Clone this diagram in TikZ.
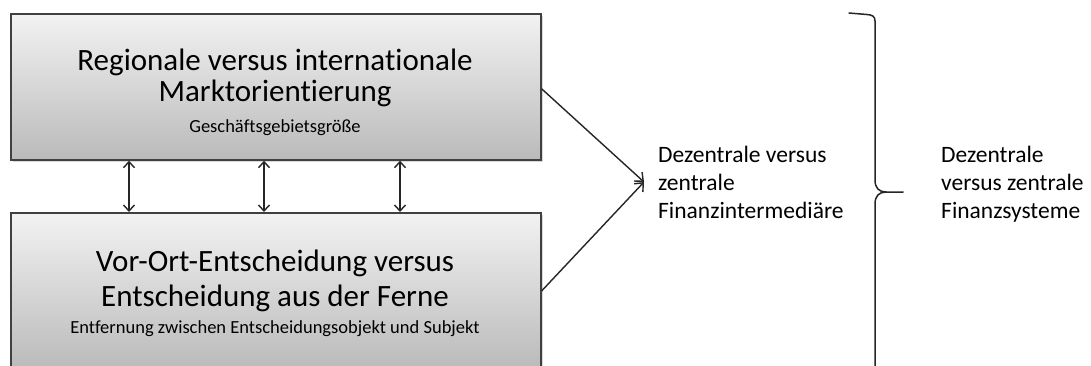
\documentclass[tikz,border=0pt]{standalone}
\usepackage{fontspec}
\setmainfont{Carlito}[Ligatures={NoCommon}]
\usetikzlibrary{arrows.meta,shadows}
\tikzset{
  box/.style={draw=black!75, line width=1.7pt, top color=black!5, bottom color=black!27,
    drop shadow={shadow xshift=2pt,shadow yshift=-2pt,opacity=0.3},
    anchor=north west, inner sep=0pt, minimum width=530pt},
  big/.style={font=\fontsize{31}{31}\selectfont, anchor=base, text=black, inner sep=0pt},
  small/.style={font=\fontsize{18.5}{18.5}\selectfont, anchor=base, text=black, inner sep=0pt},
  side/.style={font=\fontsize{23.5}{28}\selectfont, anchor=base west, text=black, inner sep=0pt},
  dbl/.style={line width=1.4pt, draw=black!85, {Straight Barb[length=6pt,width=11pt]}-{Straight Barb[length=6pt,width=11pt]}},
  conn/.style={line width=1.4pt, draw=black!85, -{Straight Barb[length=7pt,width=12pt]}},
  brace/.style={line width=1.5pt, draw=black!85, line cap=round, line join=round}
}
\begin{document}
\begin{tikzpicture}[x=1pt,y=-1pt]
\useasboundingbox (0,0) rectangle (1091,365);
\clip (0,0) rectangle (1091,365);
\fill[white] (0,0) rectangle (1091,365);

\node[box, minimum height=146pt] (b1) at (10,13) {};
\node[box, minimum height=156pt] (b2) at (10,212) {};

\node[big] (t1a) at (275,70) {Regionale versus internationale};
\node[big] (t1b) at (275,101) {Marktorientierung};
\node[small] (t1c) at (275,132) {Geschäftsgebietsgröße};

\node[big] (t2a) at (275,271) {Vor-Ort-Entscheidung versus};
\node[big] (t2b) at (275,306) {Entscheidung aus der Ferne};
\node[small] (t2c) at (275,333) {Entfernung zwischen Entscheidungsobjekt und Subjekt};

\draw[dbl] ([xshift=119pt]b1.south west) -- ([xshift=119pt]b2.north west);
\draw[dbl] ([xshift=254pt]b1.south west) -- ([xshift=254pt]b2.north west);
\draw[dbl] ([xshift=390pt]b1.south west) -- ([xshift=390pt]b2.north west);

\coordinate (tip) at (644,182);
\draw[conn] ([yshift=-2pt]b1.east) -- (tip);
\draw[conn] (b2.east) -- (tip);

\node[side] (m1) at (658,162) {Dezentrale versus};
\node[side] (m2) at (658,190) {zentrale};
\node[side] (m3) at (658,218) {Finanzintermediäre};

\draw[brace] (849,13) -- (867,14.5) .. controls (872,15) and (875,16) .. (875,21)
  -- (875,180) .. controls (875,188) and (879,192) .. (886,192) -- (903,192);
\draw[brace] (886,192) .. controls (879,192) and (875,196) .. (875,204) -- (875,370);

\node[side] (r1) at (941,162) {Dezentrale};
\node[side] (r2) at (941,190) {versus zentrale};
\node[side] (r3) at (941,218) {Finanzsysteme};
\end{tikzpicture}
\end{document}
